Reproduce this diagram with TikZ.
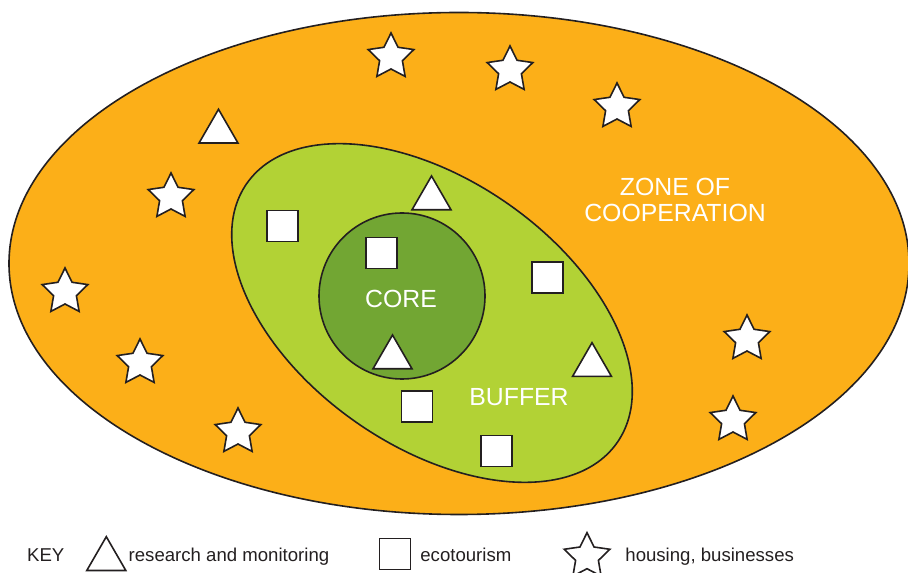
\documentclass[tikz,border=0pt]{standalone}
\usepackage{fontspec}
\setmainfont{Liberation Sans}
\usetikzlibrary{shapes.geometric}
\definecolor{zoneorange}{RGB}{252,175,24}
\definecolor{buffergreen}{RGB}{178,210,53}
\definecolor{coregreen}{RGB}{114,166,51}
\definecolor{inkdark}{RGB}{35,31,32}

\begin{document}
\begin{tikzpicture}[x=0.5pt, y=0.5pt,
  zone/.style={draw=inkdark, line width=0.8pt},
  house/.style={draw=inkdark, fill=white, line width=0.8pt, star, star points=5,
    star point ratio=2.0, minimum size=24pt, inner sep=0pt},
  research/.style={draw=inkdark, fill=white, line width=0.8pt, regular polygon,
    regular polygon sides=3, minimum size=22.5pt, inner sep=0pt},
  eco/.style={draw=inkdark, fill=white, line width=0.8pt, rectangle,
    minimum size=15.5pt, inner sep=0pt},
  zonelabel/.style={text=white, font=\fontsize{12.4}{13}\selectfont, align=center},
  keylabel/.style={text=inkdark, font=\fontsize{9.3}{11}\selectfont,
    anchor=base west, inner sep=0pt}]
  \useasboundingbox (0,0) rectangle (908,572);

  % zones
  \draw [zone, fill=zoneorange] (459,308.5) ellipse [x radius=450, y radius=251];
  \draw [zone, fill=buffergreen, shift={(432,259)}, rotate=-35]
    (0,0) ellipse [x radius=226, y radius=133];
  \draw [zone, fill=coregreen] (402,276) circle [radius=83];

  \node [zonelabel, anchor=base] at (401,264.3) (Core)   {CORE};
  \node [zonelabel, anchor=base] at (519,166.3) (Buffer) {BUFFER};
  \node [zonelabel] at (675,372) (Coop) {ZONE OF\\COOPERATION};

  % housing, businesses
  \node [house] at (391,515) (H1) {};
  \node [house] at (510,502) (H2) {};
  \node [house] at (617,465) (H3) {};
  \node [house] at (171,375) (H4) {};
  \node [house] at (65,280)  (H5) {};
  \node [house] at (140,209) (H6) {};
  \node [house] at (238,140) (H7) {};
  \node [house] at (747,233) (H8) {};
  \node [house] at (733,152) (H9) {};

  % research and monitoring
  \node [research] at (218.5,440.2) (R1) {};
  \node [research] at (431.5,373.5) (R2) {};
  \node [research] at (392.5,214.5) (R3) {};
  \node [research] at (592,206.8)   (R4) {};

  % ecotourism
  \node [eco] at (282.5,346)   (E1) {};
  \node [eco] at (381.7,319)   (E2) {};
  \node [eco] at (547.5,294.3) (E3) {};
  \node [eco] at (416.8,165.7) (E4) {};
  \node [eco] at (496.3,120.8) (E5) {};

  % key
  \node [keylabel] at (26.7,10.3) (Key) {KEY};
  \node [research] at (106.3,12.8) (KeyR) {};
  \node [keylabel] at (128.3,10.3) (KeyRText) {research and monitoring};
  \node [eco] at (395,18.2) (KeyE) {};
  \node [keylabel] at (420,10.3) (KeyEText) {ecotourism};
  \node [house] at (587,15.3) (KeyH) {};
  \node [keylabel] at (625,10.3) (KeyHText) {housing, businesses};
\end{tikzpicture}
\end{document}
